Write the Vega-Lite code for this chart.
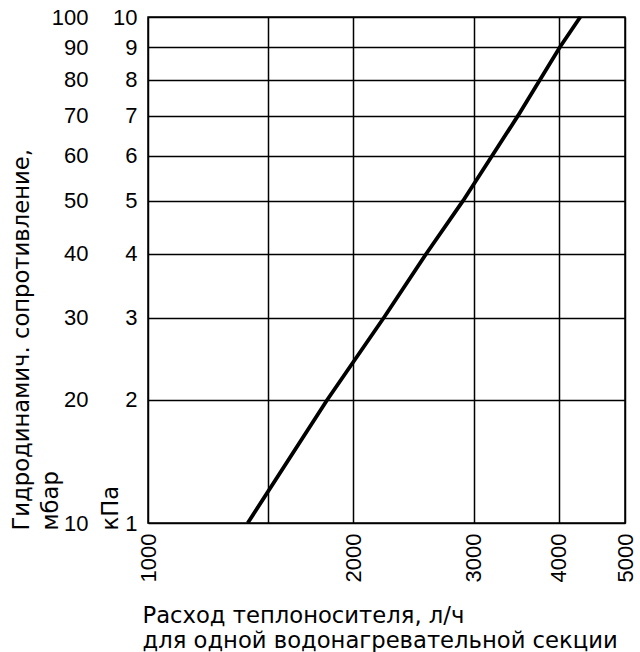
{
  "$schema": "https://vega.github.io/schema/vega-lite/v6.json",
  "width": 477,
  "height": 506,
  "autosize": {"type": "none"},
  "padding": {"left": 148, "top": 17, "right": 15, "bottom": 129},
  "background": "white",
  "config": {
    "font": "Liberation Sans",
    "view": {"stroke": "black", "strokeWidth": 1.5},
    "axis": {
      "labelFont": "Liberation Sans",
      "titleFont": "DejaVu Sans",
      "labelFontSize": 22,
      "titleFontSize": 22.7,
      "titleFontWeight": "normal",
      "labelColor": "black",
      "titleColor": "black",
      "domain": false,
      "ticks": false,
      "gridColor": "black",
      "gridOpacity": 1,
      "gridWidth": 1.5
    }
  },
  "data": {
    "values": [
      {"flow": 1400, "mbar": 10},
      {"flow": 1830, "mbar": 20},
      {"flow": 2217, "mbar": 30},
      {"flow": 2557, "mbar": 40},
      {"flow": 2894, "mbar": 50},
      {"flow": 3485, "mbar": 70},
      {"flow": 4015, "mbar": 90},
      {"flow": 4300, "mbar": 100}
    ]
  },
  "encoding": {
    "x": {
      "field": "flow",
      "type": "quantitative",
      "scale": {"type": "log", "domain": [1000, 5000], "nice": false},
      "axis": {
        "values": [1000, 1500, 2000, 3000, 4000, 5000],
        "format": "d",
        "labelExpr": "datum.value == 1500 ? '' : datum.label",
        "labelAngle": -90,
        "labelAlign": "right",
        "labelBaseline": "middle",
        "labelPadding": 10,
        "grid": true,
        "title": ["Расход теплоносителя, л/ч", "для одной водонагревательной секции"],
        "titleAnchor": "start",
        "titleAlign": "left",
        "titleBaseline": "alphabetic",
        "titleX": -6,
        "titleY": 99,
        "titleLineHeight": 25
      }
    }
  },
  "layer": [
    {
      "mark": {"type": "line", "color": "black", "strokeWidth": 3.8},
      "encoding": {
        "y": {
          "field": "mbar",
          "type": "quantitative",
          "scale": {"type": "pow", "exponent": 0.25, "domain": [10, 100], "nice": false, "zero": false},
          "axis": {
            "orient": "left",
            "values": [10, 20, 30, 40, 50, 60, 70, 80, 90, 100],
            "labelExpr": "format(datum.value / 10, 'd')",
            "labelPadding": 11,
            "labelBaseline": "middle",
            "grid": true,
            "title": "кПа",
            "titleAngle": -90,
            "titleAlign": "left",
            "titleBaseline": "alphabetic",
            "titleX": -31,
            "titleY": 513
          }
        }
      }
    },
    {
      "mark": {"type": "point", "opacity": 0},
      "encoding": {
        "y": {
          "field": "mbar",
          "type": "quantitative",
          "axis": {
            "orient": "left",
            "offset": 50,
            "values": [10, 20, 30, 40, 50, 60, 70, 80, 90, 100],
            "format": "d",
            "labelPadding": 10,
            "labelBaseline": "middle",
            "grid": false,
            "title": ["Гидродинамич. сопротивление,", "мбар"],
            "titleAngle": -90,
            "titleAlign": "left",
            "titleBaseline": "alphabetic",
            "titleX": -70,
            "titleY": 513,
            "titleLineHeight": 29
          }
        }
      }
    }
  ],
  "resolve": {"axis": {"y": "independent"}}
}
